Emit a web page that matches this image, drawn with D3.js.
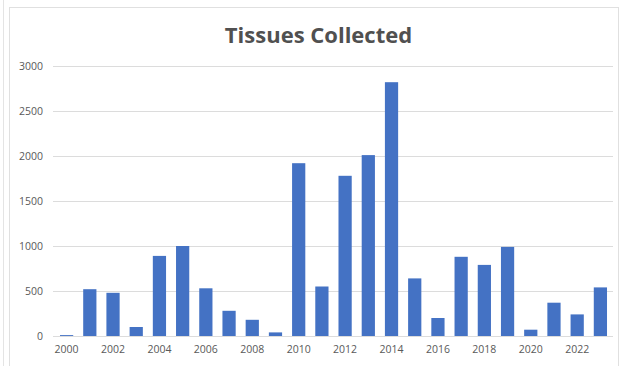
<!DOCTYPE html>
<html>
<head>
<meta charset="utf-8">
<script src="https://cdn.jsdelivr.net/npm/d3@7"></script>
<style>
  html, body { margin: 0; padding: 0; background: #fff; }
  svg { display: block; }
</style>
</head>
<body>
<svg id="chart" width="624" height="366"></svg>
<script>
// Tissues collected per year
const years = [2000, 2001, 2002, 2003, 2004, 2005, 2006, 2007, 2008, 2009, 2010, 2011,
               2012, 2013, 2014, 2015, 2016, 2017, 2018, 2019, 2020, 2021, 2022, 2023];
const tissues = [10, 520, 480, 100, 890, 1000, 530, 280, 180, 40, 1920, 550,
                 1780, 2010, 2820, 640, 200, 880, 790, 990, 70, 370, 240, 540];
const yTicks = [0, 500, 1000, 1500, 2000, 2500, 3000];
const xTickLabels = years.filter(y => y % 2 === 0);
const title = "Tissues Collected";

const svg = d3.select("#chart");
const W = 624, H = 366;
const margin = { top: 66, right: 12, bottom: 30, left: 55 };
const textColor = "#595959";
const font = "'Open Sans', 'Liberation Sans', sans-serif";

// outer frames
svg.append("line").attr("x1", 3.5).attr("x2", 3.5).attr("y1", 0).attr("y2", H)
  .attr("stroke", "#e4e4e4").attr("stroke-width", 1);
svg.append("rect").attr("x", 9.5).attr("y", 7.5).attr("width", 609).attr("height", 370)
  .attr("fill", "#fff").attr("stroke", "#e0e0e0").attr("stroke-width", 1);

const x = d3.scaleBand()
  .domain(years)
  .range([margin.left, W - margin.right])
  .paddingInner(0.43)
  .paddingOuter(0.215);

const y = d3.scaleLinear()
  .domain([0, 3000])
  .range([H - margin.bottom, margin.top]);

// gridlines
svg.append("g")
  .selectAll("line")
  .data(yTicks)
  .join("line")
  .attr("x1", 53).attr("x2", 613)
  .attr("y1", d => Math.round(y(d)) + 0.5)
  .attr("y2", d => Math.round(y(d)) + 0.5)
  .attr("stroke", "#dcdcdc")
  .attr("stroke-width", 1);

// y axis labels
const yAxis = d3.axisLeft(y).tickValues(yTicks).tickFormat(d3.format("d"))
  .tickSize(0).tickPadding(0);
const gy = svg.append("g").attr("transform", "translate(43,0)").call(yAxis);
gy.select(".domain").remove();
gy.selectAll("text")
  .attr("fill", textColor)
  .style("font-family", font)
  .style("font-size", "10.5px");

// bars
svg.append("g")
  .selectAll("rect")
  .data(years.map((yr, i) => ({ yr, v: tissues[i] })))
  .join("rect")
  .attr("x", d => x(d.yr))
  .attr("width", x.bandwidth())
  .attr("y", d => y(d.v))
  .attr("height", d => y(0) - y(d.v))
  .attr("fill", "#4472C4");

// x axis labels
const xAxis = d3.axisBottom(x).tickValues(xTickLabels).tickFormat(d3.format("d"))
  .tickSize(0).tickPadding(10);
const gx = svg.append("g").attr("transform", `translate(0,${y(0)})`).call(xAxis);
gx.select(".domain").remove();
gx.selectAll("text")
  .attr("fill", textColor)
  .style("font-family", font)
  .style("font-size", "10.5px");

// title
svg.append("text")
  .attr("x", 318.5)
  .attr("y", 43)
  .attr("text-anchor", "middle")
  .attr("fill", "#505050")
  .style("font-family", font)
  .style("font-weight", "bold")
  .style("font-size", "22px")
  .text(title);
</script>
</body>
</html>
